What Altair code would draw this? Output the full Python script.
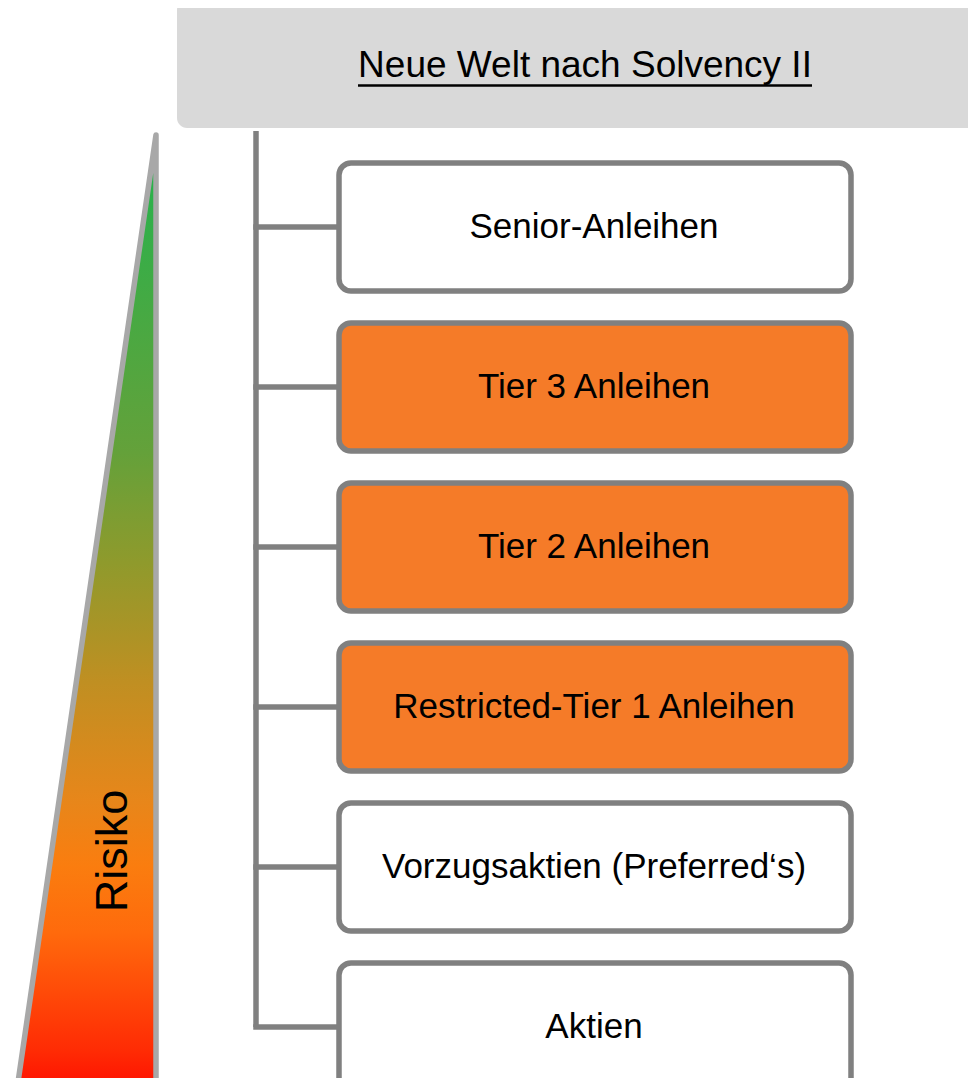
import altair as alt
import pandas as pd

# ---- content ----
header_title = "Neue Welt nach Solvency II"
risk_label = "Risiko"
instruments = [
    "Senior-Anleihen",
    "Tier 3 Anleihen",
    "Tier 2 Anleihen",
    "Restricted-Tier 1 Anleihen",
    "Vorzugsaktien (Preferred‘s)",
    "Aktien",
]
highlighted = [False, True, True, True, False, False]

# ---- style ----
ORANGE = "#f57b28"
WHITE = "#ffffff"
LINE = "#808080"
HEADER_BG = "#d9d9d9"
TRI_STROKE = "#a8a8a8"
FONT = "Liberation Sans, Arial, sans-serif"

# ---- layout (pixel space of the page) ----
W, H = 960, 1070
xs = alt.Scale(domain=[8, 8 + W], nice=False, zero=False)
ys = alt.Scale(domain=[8, 8 + H], nice=False, zero=False, reverse=True)


def X(f):
    return alt.X(f, type="quantitative", scale=xs, axis=None)


def Y(f):
    return alt.Y(f, type="quantitative", scale=ys, axis=None)


BOX_X1, BOX_X2 = 339, 851
BOX_TOP0, PITCH, BOX_H = 163, 160, 128
TREE_X = 256

rows = []
for i, (lab, hi) in enumerate(zip(instruments, highlighted)):
    top = BOX_TOP0 + PITCH * i
    rows.append(
        dict(
            label=lab,
            fill=ORANGE if hi else WHITE,
            x1=BOX_X1,
            x2=BOX_X2,
            y1=top,
            y2=top + BOX_H,
            cy=top + BOX_H / 2,
            ty=top + BOX_H / 2 + 11,
            tx=(BOX_X1 + BOX_X2) / 2 - 1,
            lx1=TREE_X,
            lx2=BOX_X1,
        )
    )
boxes = pd.DataFrame(rows)

# header
header_df = pd.DataFrame([dict(x1=177, x2=1000, y1=0, y2=128)])
header_bg = alt.Chart(header_df).mark_rect(
    cornerRadius=10, fill=HEADER_BG, clip=True
).encode(x=X("x1"), x2="x2", y=Y("y1"), y2="y2")

header_text = alt.Chart(pd.DataFrame([dict(t=header_title, x=585, y=77)])).mark_text(
    font=FONT, fontSize=37, align="center", baseline="alphabetic", color="#000000"
).encode(x=X("x"), y=Y("y"), text="t:N")

underline = alt.Chart(pd.DataFrame([dict(x1=358, x2=812, y=85.5)])).mark_rule(
    color="#000000", strokeWidth=2.5
).encode(x=X("x1"), x2="x2", y=Y("y"))

# risk triangle
tri_df = pd.DataFrame([dict(y=135, xa=156, xb=156), dict(y=1096, xa=16, xb=156)])
stops = [
    (0.0, "#1db34b"),
    (0.07, "#2fb04a"),
    (0.33, "#64a13a"),
    (0.445, "#8f9a2c"),
    (0.57, "#c08f22"),
    (0.695, "#e8861a"),
    (0.76, "#fa7d0f"),
    (0.83, "#ff6a0c"),
    (0.955, "#ff2a04"),
    (1.0, "#ff0a00"),
]
grad = alt.Gradient(
    gradient="linear",
    stops=[alt.GradientStop(offset=o, color=c) for o, c in stops],
    x1=0,
    x2=0,
    y1=0,
    y2=1,
)
triangle = alt.Chart(tri_df).mark_area(
    orient="horizontal",
    color=grad,
    stroke=TRI_STROKE,
    strokeWidth=5.5,
    strokeJoin="round",
    clip=True,
).encode(y=Y("y"), x=X("xa"), x2="xb")

risk_text = alt.Chart(pd.DataFrame([dict(t=risk_label, x=127, y=851)])).mark_text(
    font=FONT, fontSize=45, angle=270, align="center", baseline="alphabetic", color="#000000"
).encode(x=X("x"), y=Y("y"), text="t:N")

# tree lines
last_cy = boxes["cy"].iloc[-1]
trunk = alt.Chart(pd.DataFrame([dict(x=TREE_X, y1=131, y2=last_cy)])).mark_rule(
    color=LINE, strokeWidth=5.5
).encode(x=X("x"), y=Y("y1"), y2="y2")

branches = alt.Chart(boxes).mark_rule(
    color=LINE, strokeWidth=5.5, strokeCap="square"
).encode(x=X("lx1"), x2="lx2", y=Y("cy"))

box_rects = alt.Chart(boxes).mark_rect(
    cornerRadius=12, stroke=LINE, strokeWidth=5.5, clip=True
).encode(
    x=X("x1"), x2="x2", y=Y("y1"), y2="y2",
    fill=alt.Fill("fill:N", scale=None, legend=None),
)

box_text = alt.Chart(boxes).mark_text(
    font=FONT, fontSize=35, align="center", baseline="alphabetic", color="#000000"
).encode(x=X("tx"), y=Y("ty"), text="label:N")

chart = (
    alt.layer(
        header_bg, header_text, underline, triangle, risk_text,
        trunk, branches, box_rects, box_text,
    )
    .properties(width=W, height=H, autosize=alt.AutoSizeParams(type="none"), padding=0)
    .configure_view(strokeWidth=0)
)

chart.save("out.html", embed_options={"renderer": "svg", "actions": False})
